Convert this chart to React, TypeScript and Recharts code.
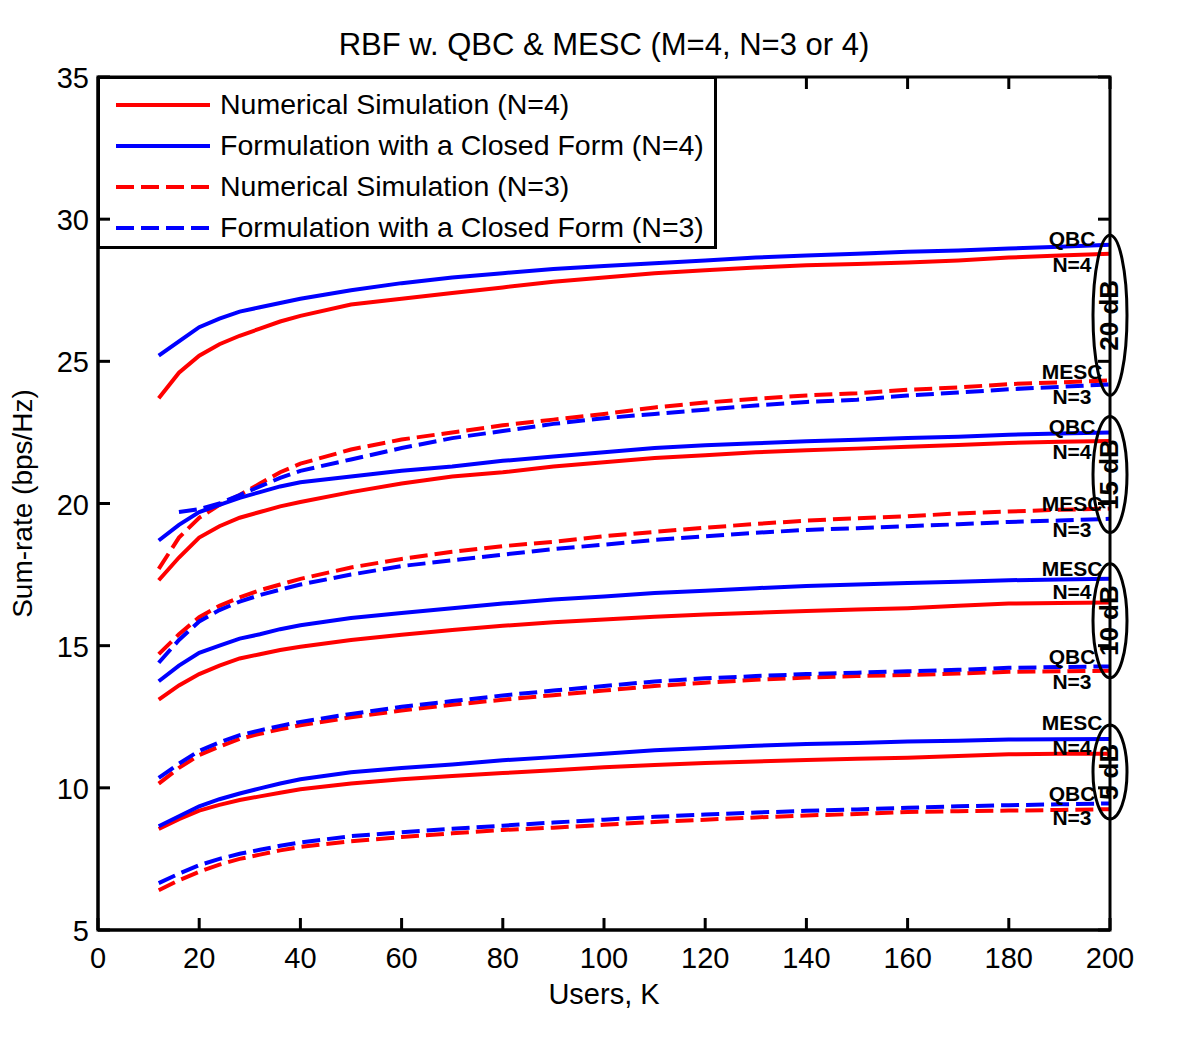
import { LineChart, Line, XAxis, YAxis, Legend, ReferenceDot } from "recharts";

// users K
const K = [12, 16, 20, 24, 28, 32, 36, 40, 50, 60, 70, 80, 90, 100, 110, 120, 130, 140, 150, 160, 170, 180, 190, 200];

// 20 dB
const sim4_20 = [23.7, 24.6, 25.2, 25.6, 25.9, 26.15, 26.4, 26.6, 27.0, 27.2, 27.4, 27.6, 27.8, 27.95, 28.1, 28.2, 28.3, 28.38, 28.42, 28.48, 28.55, 28.65, 28.72, 28.78];
const cf4_20 = [25.2, 25.7, 26.2, 26.5, 26.75, 26.9, 27.05, 27.2, 27.5, 27.75, 27.95, 28.1, 28.25, 28.35, 28.45, 28.55, 28.65, 28.72, 28.78, 28.85, 28.9, 28.97, 29.03, 29.1];
const sim3_20 = [17.7, 18.8, 19.5, 19.95, 20.3, 20.7, 21.1, 21.4, 21.9, 22.25, 22.5, 22.75, 22.95, 23.15, 23.38, 23.55, 23.68, 23.8, 23.88, 24.0, 24.08, 24.2, 24.26, 24.33];
const cf3_20 = [null, 19.7, 19.8, 20.0, 20.3, 20.6, 20.9, 21.15, 21.55, 21.95, 22.3, 22.55, 22.8, 23.0, 23.15, 23.3, 23.45, 23.57, 23.65, 23.8, 23.9, 24.02, 24.1, 24.19];
// 15 dB
const sim4_15 = [17.3, 18.1, 18.8, 19.2, 19.5, 19.7, 19.9, 20.05, 20.4, 20.7, 20.95, 21.1, 21.3, 21.45, 21.6, 21.7, 21.8, 21.87, 21.93, 22.0, 22.06, 22.13, 22.17, 22.2];
const cf4_15 = [18.7, 19.25, 19.7, 19.95, 20.2, 20.4, 20.6, 20.75, 20.95, 21.15, 21.3, 21.5, 21.65, 21.8, 21.95, 22.05, 22.12, 22.19, 22.24, 22.3, 22.35, 22.42, 22.46, 22.5];
const sim3_15 = [14.7, 15.4, 16.0, 16.4, 16.7, 16.95, 17.15, 17.35, 17.75, 18.05, 18.3, 18.5, 18.65, 18.85, 19.0, 19.15, 19.28, 19.4, 19.48, 19.55, 19.65, 19.72, 19.78, 19.82];
const cf3_15 = [14.4, 15.2, 15.85, 16.25, 16.55, 16.78, 16.97, 17.15, 17.5, 17.8, 18.0, 18.2, 18.4, 18.55, 18.72, 18.85, 18.97, 19.07, 19.13, 19.2, 19.27, 19.35, 19.4, 19.46];
// 10 dB
const sim4_10 = [13.1, 13.6, 14.0, 14.3, 14.55, 14.7, 14.85, 14.96, 15.2, 15.38, 15.55, 15.7, 15.82, 15.92, 16.02, 16.1, 16.16, 16.22, 16.27, 16.32, 16.4, 16.48, 16.5, 16.52];
const cf4_10 = [13.75, 14.3, 14.75, 15.0, 15.25, 15.4, 15.58, 15.72, 15.97, 16.15, 16.32, 16.48, 16.62, 16.73, 16.85, 16.93, 17.02, 17.1, 17.15, 17.2, 17.25, 17.3, 17.33, 17.35];
const sim3_10 = [10.15, 10.7, 11.15, 11.45, 11.72, 11.9, 12.06, 12.2, 12.48, 12.72, 12.92, 13.1, 13.26, 13.42, 13.58, 13.7, 13.8, 13.88, 13.93, 13.97, 14.02, 14.08, 14.1, 14.12];
const cf3_10 = [10.35, 10.85, 11.3, 11.6, 11.85, 12.02, 12.18, 12.32, 12.6, 12.85, 13.05, 13.25, 13.42, 13.58, 13.74, 13.85, 13.93, 14.0, 14.05, 14.1, 14.15, 14.22, 14.25, 14.27];
// 5 dB
const sim4_5 = [8.55, 8.9, 9.2, 9.4, 9.57, 9.7, 9.83, 9.95, 10.15, 10.3, 10.42, 10.52, 10.62, 10.72, 10.8, 10.87, 10.93, 10.98, 11.02, 11.06, 11.12, 11.18, 11.2, 11.2];
const cf4_5 = [8.65, 9.0, 9.35, 9.6, 9.8, 9.98, 10.15, 10.3, 10.55, 10.7, 10.82, 10.97, 11.08, 11.2, 11.32, 11.4, 11.48, 11.54, 11.58, 11.63, 11.66, 11.7, 11.71, 11.72];
const sim3_5 = [6.4, 6.75, 7.05, 7.3, 7.5, 7.65, 7.8, 7.92, 8.12, 8.27, 8.4, 8.52, 8.6, 8.7, 8.8, 8.88, 8.96, 9.03, 9.08, 9.15, 9.18, 9.2, 9.22, 9.25];
const cf3_5 = [6.65, 6.98, 7.28, 7.5, 7.68, 7.82, 7.96, 8.08, 8.3, 8.44, 8.56, 8.67, 8.78, 8.88, 8.98, 9.06, 9.13, 9.19, 9.24, 9.3, 9.35, 9.39, 9.42, 9.45];

const xTicks = [0, 20, 40, 60, 80, 100, 120, 140, 160, 180, 200];
const yTicks = [5, 10, 15, 20, 25, 30, 35];

const legendNames = [
    "Numerical Simulation (N=4)",
    "Formulation with a Closed Form (N=4)",
    "Numerical Simulation (N=3)",
    "Formulation with a Closed Form (N=3)",
];

// SNR groups with their ellipse centre (sum-rate units) and half height (px)
const snrGroups = [
    { label: "20 dB", sim4: sim4_20, cf4: cf4_20, sim3: sim3_20, cf3: cf3_20, cy: 26.62, ry: 80 },
    { label: "15 dB", sim4: sim4_15, cf4: cf4_15, sim3: sim3_15, cf3: cf3_15, cy: 21.02, ry: 58 },
    { label: "10 dB", sim4: sim4_10, cf4: cf4_10, sim3: sim3_10, cf3: cf3_10, cy: 15.88, ry: 57 },
    { label: "5 dB", sim4: sim4_5, cf4: cf4_5, sim3: sim3_5, cf3: cf3_5, cy: 10.56, ry: 47 },
];

const curveLabels = [
    { text: "QBC", y: 29.33 }, { text: "N=4", y: 28.42 },
    { text: "MESC", y: 24.65 }, { text: "N=3", y: 23.77 },
    { text: "QBC", y: 22.71 }, { text: "N=4", y: 21.83 },
    { text: "MESC", y: 20.0 }, { text: "N=3", y: 19.08 },
    { text: "MESC", y: 17.71 }, { text: "N=4", y: 16.9 },
    { text: "QBC", y: 14.61 }, { text: "N=3", y: 13.73 },
    { text: "MESC", y: 12.29 }, { text: "N=4", y: 11.41 },
    { text: "QBC", y: 9.79 }, { text: "N=3", y: 8.94 },
];

const RED = "#ff0000";
const BLUE = "#0000ff";
const DASH = "18 7";
const FONT = "'Liberation Sans', Arial, Helvetica, sans-serif";

const seriesKinds = [
    { key: "sim4", color: RED, dash: undefined },
    { key: "cf4", color: BLUE, dash: undefined },
    { key: "sim3", color: RED, dash: DASH },
    { key: "cf3", color: BLUE, dash: DASH },
];

const data = K.map((k, i) => {
    const row: Record<string, number | null> = { k };
    snrGroups.forEach((g, gi) => {
        seriesKinds.forEach((s) => {
            row[`${s.key}_${gi}`] = (g as any)[s.key][i];
        });
    });
    return row;
});

const W = 1200;
const H = 1044;
const PL = 98, PT = 77, PR = 1110, PB = 930;
const TICK = 12;
const LEGEND_W = 620;
const axisStroke = { stroke: "#000", strokeWidth: 3 };

// tick position helpers for the inward MATLAB-style ticks (same domains as the axes)
const px = (k: number) => PL + (k / 200) * (PR - PL);
const py = (v: number) => PB - ((v - 5) / 30) * (PB - PT);

const BottomLabel = ({ x, payload }: any) => (
    <text x={x} y={968} textAnchor="middle" fontSize={29} fill="#000" fontFamily={FONT}>{payload.value}</text>
);
const LeftLabel = ({ y, payload }: any) => (
    <text x={89} y={y + 11} textAnchor="end" fontSize={29} fill="#000" fontFamily={FONT}>{payload.value}</text>
);

const LegendBox = () => (
    <div style={{ width: LEGEND_W, height: 173, boxSizing: "border-box", border: "3px solid #000", background: "#fff", paddingTop: 5 }}>
        {legendNames.map((name, i) => (
            <div key={name} style={{ height: 41, display: "flex", alignItems: "center" }}>
                <svg width={120} height={10} style={{ flex: "none" }}>
                    <line x1={16} x2={110} y1={5} y2={5} stroke={seriesKinds[i].color} strokeWidth={4} strokeDasharray={seriesKinds[i].dash} />
                </svg>
                <span style={{ fontFamily: FONT, fontSize: 28.5, color: "#000", whiteSpace: "nowrap", lineHeight: "41px" }}>{name}</span>
            </div>
        ))}
    </div>
);

export default function App() {
    return (
        <div style={{ position: "relative", width: W, height: H, background: "#fff", fontFamily: FONT }}>
            <style>{"body{margin:0;}"}</style>
            <LineChart width={W} height={H} data={data} margin={{ top: PT, right: W - PR, bottom: 54, left: 0 }}>
                <XAxis dataKey="k" type="number" domain={[0, 200]} ticks={xTicks} height={60}
                    axisLine={axisStroke} tickLine={false} tick={<BottomLabel />} interval={0} />
                <YAxis type="number" domain={[5, 35]} ticks={yTicks} width={PL}
                    axisLine={axisStroke} tickLine={false} tick={<LeftLabel />} interval={0} />
                {snrGroups.map((g, gi) =>
                    seriesKinds.map((s, si) => (
                        <Line key={`${s.key}_${gi}`} dataKey={`${s.key}_${gi}`} type="linear" stroke={s.color}
                            strokeWidth={4} strokeDasharray={s.dash} dot={false} activeDot={false}
                            isAnimationActive={false} legendType={gi === 0 ? "line" : "none"}
                            name={gi === 0 ? legendNames[si] : undefined} />
                    ))
                )}
                {snrGroups.map((g) => (
                    <ReferenceDot key={g.label} x={200} y={g.cy} ifOverflow="visible"
                        shape={(p: any) => (
                            <g>
                                <ellipse cx={p.cx} cy={p.cy} rx={17} ry={g.ry} fill="none" stroke="#000" strokeWidth={3} />
                                <text x={p.cx - 1} y={p.cy} transform={`rotate(-90 ${p.cx - 1} ${p.cy})`} textAnchor="middle"
                                    dominantBaseline="central" fontSize={26} fontWeight="bold" fill="#000" fontFamily={FONT}>{g.label}</text>
                            </g>
                        )} />
                ))}
                {curveLabels.map((c, i) => (
                    <ReferenceDot key={i} x={200} y={c.y} ifOverflow="visible"
                        shape={(p: any) => (
                            <text x={p.cx - 38} y={p.cy} textAnchor="middle" dominantBaseline="central"
                                fontSize={21} fontWeight="bold" fill="#000" fontFamily={FONT}>{c.text}</text>
                        )} />
                ))}
                <Legend content={<LegendBox />} layout="horizontal" verticalAlign="middle" align="center"
                    wrapperStyle={{ position: "absolute", left: PL - 1, top: PT - 1, width: LEGEND_W, height: 173 }} />
            </LineChart>
            <svg width={W} height={H} style={{ position: "absolute", left: 0, top: 0, pointerEvents: "none" }}>
                <rect x={PL} y={PT} width={PR - PL} height={PB - PT} fill="none" stroke="#000" strokeWidth={3} />
                {xTicks.map((k) => (
                    <line key={`b${k}`} x1={px(k)} x2={px(k)} y1={PB} y2={PB - TICK} stroke="#000" strokeWidth={3} />
                ))}
                {xTicks.filter((k) => px(k) > PL + LEGEND_W).map((k) => (
                    <line key={`t${k}`} x1={px(k)} x2={px(k)} y1={PT} y2={PT + TICK} stroke="#000" strokeWidth={3} />
                ))}
                {yTicks.map((v) => (
                    <line key={`l${v}`} x1={PL} x2={PL + TICK} y1={py(v)} y2={py(v)} stroke="#000" strokeWidth={3} />
                ))}
                {yTicks.map((v) => (
                    <line key={`r${v}`} x1={PR} x2={PR - TICK} y1={py(v)} y2={py(v)} stroke="#000" strokeWidth={3} />
                ))}
                <text x={(PL + PR) / 2} y={55} textAnchor="middle" fontSize={31} fill="#000" fontFamily={FONT}>RBF w. QBC &amp; MESC (M=4, N=3 or 4)</text>
                <text x={(PL + PR) / 2} y={1004} textAnchor="middle" fontSize={29} fill="#000" fontFamily={FONT}>Users, K</text>
                <text x={32} y={(PT + PB) / 2} transform={`rotate(-90 32 ${(PT + PB) / 2})`} textAnchor="middle" fontSize={28} fill="#000" fontFamily={FONT}>Sum-rate (bps/Hz)</text>
            </svg>
        </div>
    );
}
